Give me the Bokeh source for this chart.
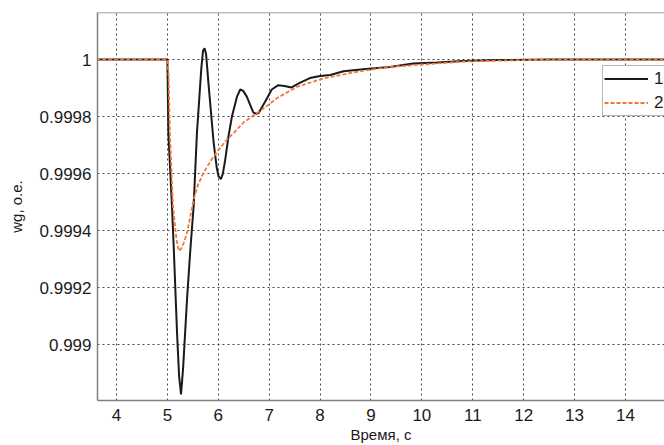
from bokeh.plotting import figure
from bokeh.models import FixedTicker, Range1d, Legend, LegendItem, Span
from bokeh.embed import file_html
from bokeh.resources import INLINE

# Series 1 (black, solid)
t1 = [3.6, 5.0, 5.02, 5.09, 5.125, 5.19, 5.23, 5.268, 5.31, 5.386, 5.45, 5.516,
      5.58, 5.667, 5.70, 5.73, 5.76, 5.81, 5.908, 5.97, 6.006, 6.053, 6.09, 6.137,
      6.20, 6.268, 6.37, 6.431, 6.49, 6.56, 6.69, 6.74, 6.79, 6.92, 7.05, 7.18,
      7.30, 7.44, 7.60, 7.80, 8.0, 8.2, 8.46, 8.9, 9.37, 9.83, 10.3, 10.81, 11.5,
      12.5, 15.0]
w1 = [1.0, 1.0, 0.99974, 0.999486, 0.99934, 0.99904, 0.99889, 0.998825, 0.99892,
      0.99916, 0.99933, 0.999486, 0.99974, 0.99997, 1.00003, 1.00004, 1.00002,
      0.99991, 0.99971, 0.99962, 0.99959, 0.999581, 0.99960, 0.999649, 0.99973,
      0.9998, 0.999871, 0.999895, 0.99989, 0.99987, 0.999814, 0.99981, 0.999812,
      0.999852, 0.999895, 0.99991, 0.999907, 0.999902, 0.999918, 0.999935,
      0.999942, 0.999946, 0.999959, 0.999967, 0.999974, 0.999986, 0.99999,
      0.999995, 0.999998, 1.0, 1.0]

# Series 2 (orange, dashed)
t2 = [3.6, 5.0, 5.025, 5.05, 5.11, 5.18, 5.21, 5.24, 5.28, 5.33, 5.386, 5.45,
      5.516, 5.60, 5.71, 5.85, 6.006, 6.15, 6.30, 6.5, 6.76, 7.0, 7.15, 7.54,
      8.07, 8.72, 9.37, 9.83, 10.81, 12.0, 13.0, 15.0]
w2 = [1.0, 1.0, 0.99994, 0.99974, 0.999486, 0.999368, 0.99934, 0.999328, 0.99934,
      0.99936, 0.999393, 0.99945, 0.999509, 0.99956, 0.999602, 0.999645, 0.999683,
      0.999715, 0.999742, 0.99978, 0.999812, 0.999843, 0.999864, 0.999904,
      0.999934, 0.999957, 0.999974, 0.99998, 0.999993, 0.999998, 1.0, 1.0]

x_ticks = [4, 5, 6, 7, 8, 9, 10, 11, 12, 13, 14]
y_ticks = [0.999, 0.9992, 0.9994, 0.9996, 0.9998, 1.0]
y_tick_labels = ["0.999", "0.9992", "0.9994", "0.9996", "0.9998", "1"]
series_names = ["1", "2"]

FONT = "Liberation Sans"
Y_TOP = 1.000165

p = figure(width=664, height=445, output_backend="svg", toolbar_location=None,
           x_range=Range1d(3.627, 14.767), y_range=Range1d(0.998804, Y_TOP),
           min_border_left=97, min_border_right=0, min_border_top=12,
           min_border_bottom=43)

p.background_fill_color = "white"
p.border_fill_color = "white"
p.outline_line_color = None

p.grid.grid_line_color = "#333333"
p.grid.grid_line_dash = "2 3"
p.grid.grid_line_width = 1
p.grid.grid_line_alpha = 0.9

r1 = p.line(t1, w1, line_color="#1a1a1a", line_width=2)
r2 = p.line(t2, w2, line_color="#F37838", line_width=1.8, line_dash="4 2")

p.add_layout(Span(location=Y_TOP, dimension="width", line_color="#808080",
                  line_width=1.5))

p.xaxis.ticker = FixedTicker(ticks=x_ticks)
p.yaxis.ticker = FixedTicker(ticks=y_ticks)
p.yaxis.major_label_overrides = {v: s for v, s in zip(y_ticks, y_tick_labels)}

for ax in (p.xaxis, p.yaxis):
    ax.axis_line_color = "#808080"
    ax.axis_line_width = 1.5
    ax.major_tick_in = 0
    ax.major_tick_out = 0
    ax.minor_tick_in = 0
    ax.minor_tick_out = 0
    ax.major_label_text_font = FONT
    ax.major_label_text_font_size = "17px"
    ax.major_label_text_color = "#1a1a1a"
    ax.axis_label_text_font = FONT
    ax.axis_label_text_font_size = "15px"
    ax.axis_label_text_font_style = "normal"
    ax.axis_label_text_color = "#1a1a1a"

p.xaxis.axis_label = "Время, с"
p.yaxis.axis_label = "wg, o.e."
p.xaxis.major_label_standoff = 8
p.xaxis.axis_label_standoff = 2
p.yaxis.major_label_standoff = 6
p.yaxis.axis_label_standoff = 12

legend = Legend(items=[LegendItem(label=series_names[0], renderers=[r1]),
                       LegendItem(label=series_names[1], renderers=[r2])],
                location=(505, 284), padding=1, spacing=1, margin=0,
                glyph_width=44, glyph_height=23, label_height=23,
                label_width=30, label_standoff=6, label_text_font=FONT,
                label_text_font_size="17px", label_text_color="#1a1a1a",
                border_line_color="#707070", border_line_width=1.2,
                background_fill_color="white", background_fill_alpha=1.0)
p.add_layout(legend, "center")

open("out.html", "w").write(file_html(p, INLINE))
